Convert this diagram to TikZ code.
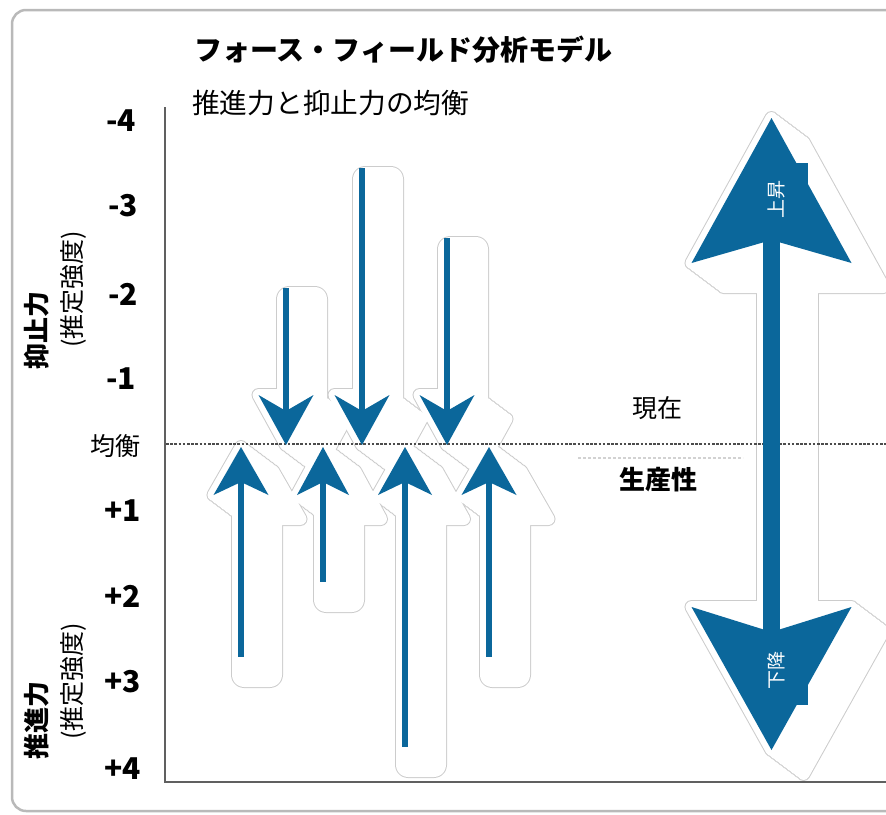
\documentclass[tikz,border=0pt]{standalone}
\usepackage{fontspec}
\setmainfont{Noto Sans CJK JP}
\newfontfamily\jp{Noto Sans CJK JP}
\definecolor{arrowblue}{RGB}{11,103,155}
\tikzset{
  haloedge/.style={fill=gray!40, draw=gray!40, line width=14pt, line join=round},
  halofill/.style={fill=white, draw=white, line width=12pt, line join=round},
  tick/.style={anchor=west, inner sep=0pt, font=\jp\bfseries\fontsize{30}{30}\selectfont},
  lbl/.style={inner sep=0pt, font=\jp\fontsize{25}{25}\selectfont},
  boxlbl/.style={inner sep=0pt, rotate=90, text=white, font=\jp\fontsize{19}{19}\selectfont},
  sidebold/.style={inner sep=0pt, rotate=90, font=\jp\bfseries\fontsize{26}{26}\selectfont},
  sidereg/.style={inner sep=0pt, rotate=90, font=\jp\fontsize{25}{25}\selectfont},
}
% halo: s, tail, tip, half shaft, head length, head half width, style
\newcommand\drawhalo[7]{%
  \pgfmathsetmacro\hd{ifthenelse(#3>#2,1,-1)}%
  \pgfmathsetmacro\hb{#3-\hd*#5}%
  \pgfmathsetmacro\ha{ifthenelse(#3>#2,#2+5,\hb)}%
  \pgfmathsetmacro\hz{ifthenelse(#3>#2,\hb+20,#2+24)}%
  \path[#7, rounded corners=6pt] (#1-3,\ha) rectangle (#1+35,\hz);
  \foreach \k in {0,...,8}{%
    \path[#7, shift={(4*\k,3*\k)}] (#1,#3) -- (#1-#6,\hb) -- (#1+#6,\hb) -- cycle;
  }%
}
\newcommand\drawbighalo[1]{%
  \path[#1] (763,250) rectangle (812,620);
  \foreach \k in {0,...,8}{%
    \path[#1, shift={(4*\k,3*\k)}]
      (771.5,118) -- (691.5,263) -- (851.5,263) -- cycle
      (771.5,750) -- (691.5,607) -- (851.5,607) -- cycle;
  }%
}
\newcommand\allhalos[1]{%
  \drawhalo{286}{288}{445}{3}{50}{27.5}{#1}
  \drawhalo{362}{168}{445}{3}{50}{27.5}{#1}
  \drawhalo{447}{238}{445}{3}{50}{27.5}{#1}
  \drawhalo{241}{657}{447}{3}{48}{27.5}{#1}
  \drawhalo{323}{582}{447}{3}{48}{26}{#1}
  \drawhalo{405}{747}{447}{3}{48}{27}{#1}
  \drawhalo{489}{657}{447}{3}{48}{27.5}{#1}
  \drawbighalo{#1}
}
% blue arrow: s, tail, tip, half shaft, head length, head half width, notch
\newcommand\bluearrow[7]{%
  \pgfmathsetmacro\bd{ifthenelse(#3>#2,1,-1)}%
  \pgfmathsetmacro\bb{#3-\bd*#5}%
  \pgfmathsetmacro\bn{\bb+\bd*#7}%
  \fill[arrowblue] (#1-#4,#2) rectangle (#1+#4,\bn);
  \fill[arrowblue] (#1,#3) -- (#1-#6,\bb) -- (#1,\bn) -- (#1+#6,\bb) -- cycle;
}
\begin{document}
\begin{tikzpicture}[x=1pt,y=-1pt,font=\jp]
\useasboundingbox (0,0) rectangle (886,814);
\begin{scope}
\clip (0,0) rectangle (886,814);
% frame (open on the right)
\coordinate (frTR) at (900,10);
\coordinate (frBR) at (900,811);
\draw[gray!55, line width=2.5pt, rounded corners=14pt] (frTR) -- (12,10) -- (12,811) -- (frBR);
% halos
\allhalos{haloedge}
\allhalos{halofill}
% equilibrium dashed line
\coordinate (eqL) at (166,444);
\coordinate (eqR) at (886,444);
\draw[gray!60!black, line width=1.6pt, dash pattern=on 2.6pt off 1.6pt] (eqL) -- (eqR);
\coordinate (fL) at (578,458);
\coordinate (fR) at (743,458);
\draw[gray!35, line width=1.2pt, dash pattern=on 3pt off 2pt] (fL) -- (fR);
% axes
\coordinate (ytop) at (165,107);
\coordinate (orig) at (165,782);
\coordinate (xend) at (900,782);
\draw[gray!75!black, line width=2pt] (ytop) -- (orig) -- (xend);
% small arrows
\bluearrow{286}{288}{445}{2.9}{50}{27.5}{16}
\bluearrow{362}{168}{445}{2.9}{50}{27.5}{16}
\bluearrow{447}{238}{445}{2.9}{50}{27.5}{16}
\bluearrow{241}{657}{447}{2.9}{48}{27.5}{13}
\bluearrow{323}{582}{447}{2.9}{48}{26}{13}
\bluearrow{405}{747}{447}{2.9}{48}{27}{13}
\bluearrow{489}{657}{447}{2.9}{48}{27.5}{13}
% big double arrow
\fill[arrowblue] (763,238) rectangle (780,634);
\fill[arrowblue] (771.5,118) -- (691.5,263) -- (771.5,240) -- (851.5,263) -- cycle;
\fill[arrowblue] (771.5,750) -- (691.5,607) -- (771.5,632) -- (851.5,607) -- cycle;
\node[fill=arrowblue, minimum width=49pt, minimum height=69pt, inner sep=0pt] (upbox) at (783.5,197.5) {};
\node[boxlbl] (uplbl) at (776,199) {上昇};
\node[fill=arrowblue, minimum width=49pt, minimum height=70pt, inner sep=0pt] (dnbox) at (783.5,670) {};
\node[boxlbl] (dnlbl) at (776,670) {下降};
\end{scope}
% titles
\node[anchor=west, inner sep=0pt, font=\jp\bfseries\fontsize{28}{28}\selectfont] (title) at (194,50) {フォース・フィールド分析モデル};
\node[anchor=west, inner sep=0pt, font=\jp\fontsize{27.7}{27.7}\selectfont] (sub) at (192,103) {推進力と抑止力の均衡};
% ticks
\node[tick] (m4) at (106,121) {-4};
\node[tick] (m3) at (108,206) {-3};
\node[tick] (m2) at (108,294) {-2};
\node[tick] (m1) at (106,379) {-1};
\node[lbl, anchor=east] (eq) at (141,446) {均衡};
\node[tick] (p1) at (104,511) {+1};
\node[tick] (p2) at (104,596) {+2};
\node[tick] (p3) at (104,682) {+3};
\node[tick] (p4) at (104,769) {+4};
% side labels
\node[sidebold] (yoku) at (37,330) {抑止力};
\node[sidereg] (yokus) at (73,289) {(推定強度)};
\node[sidebold] (sui) at (37,720) {推進力};
\node[sidereg] (suis) at (73,681) {(推定強度)};
% right labels
\node[lbl] (now) at (657,408) {現在};
\node[inner sep=0pt, font=\jp\bfseries\fontsize{26}{26}\selectfont] (prod) at (658,480) {生産性};
\end{tikzpicture}
\end{document}
